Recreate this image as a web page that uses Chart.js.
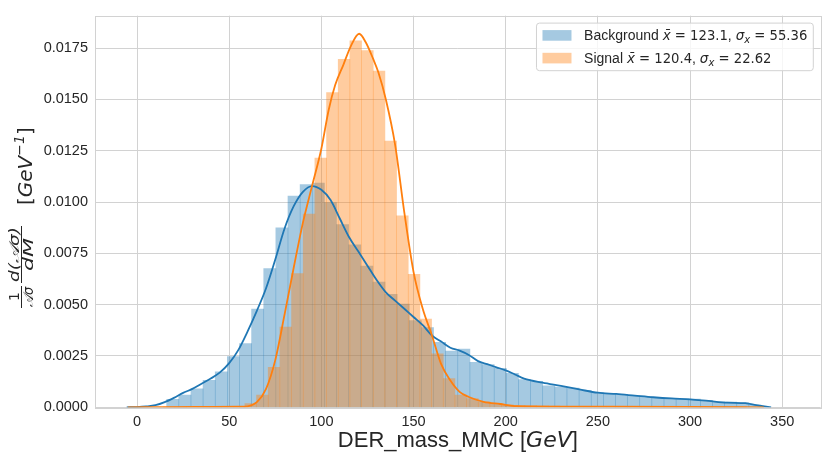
<!DOCTYPE html>
<html>
<head>
<meta charset="utf-8">
<script src="https://cdn.jsdelivr.net/npm/chart.js@4.4.1/dist/chart.umd.min.js"></script>
<style>
  html, body { margin: 0; padding: 0; background: #fff; }
  #caixa { width: 831px; height: 460px; position: relative; }
</style>
</head>
<body>
<div id="caixa"><canvas id="grafico_massa"></canvas></div>
<script>
// Cores (paleta padrão do matplotlib):
let azul = "#1f77b4";
let laranja = "#ff7f0e";
let azul_fill = "rgba(31, 119, 180, 0.4)";
let laranja_fill = "rgba(255, 127, 14, 0.4)";
let cinza_grade = "#d2d2d2";
let texto = "#262626";

// Dados dos histogramas (densidade por bin, GeV):
let bg_inicio = 16.1, bg_largura = 6.58
let bg_alturas = [0.00039, 0.0006, 0.0009, 0.00131, 0.00173, 0.00247, 0.0031, 0.00478, 0.00676, 0.00875,
  0.01029, 0.01085, 0.01092, 0.00997, 0.0089, 0.00792, 0.00688, 0.0061, 0.00551, 0.00503,
  0.00423, 0.00388, 0.00316, 0.00274, 0.00284, 0.00219, 0.00208, 0.0019, 0.00166, 0.00135,
  0.00127, 0.00104, 0.00099, 0.00094, 0.00083, 0.00072, 0.00067, 0.00063, 0.00054, 0.00051,
  0.00046, 0.00043, 0.00041, 0.0004, 0.00034, 0.00027, 0.00025, 0.00022, 0.00011]

let sg_inicio = 14.2, sg_largura = 6.33
let sg_alturas = [0.00001, 0.00001, 0.00002, 0.00002, 0.00002, 0.00003, 0.00005, 0.00018, 0.0006, 0.00195,
  0.00391, 0.00652, 0.00941, 0.01214, 0.01534, 0.01695, 0.01785, 0.01738, 0.01638, 0.01297,
  0.00933, 0.00648, 0.0043, 0.0026, 0.0014, 0.00059, 0.00043, 0.00027, 0.00019, 0.00012,
  0.0001, 0.00008, 0.00007, 0.00006, 0.00005, 0.00005, 0.00004, 0.00004, 0.00003, 0.00003,
  0.00003, 0.00002, 0.00002, 0.00002, 0.00002, 0.00001, 0.00001, 0.00001, 0.00001, 0.00001]

// Curvas KDE:
let bg_kde_x = [-5.6, 0, 5, 10, 15, 20, 25, 30, 35, 40, 45, 50, 55, 60, 65, 70, 75, 80, 85, 90,
  95, 100, 105, 110, 115, 120, 125, 130, 135, 140, 145, 150, 155, 160, 165, 170, 175, 180, 185, 190,
  195, 200, 205, 210, 220, 230, 240, 250, 260, 270, 280, 290, 300, 310, 320, 330, 336, 344]
let bg_kde_y = [0, 0.00001, 0.00004, 0.0001, 0.00025, 0.00046, 0.0007, 0.0009, 0.00115, 0.0014, 0.0017, 0.00215, 0.0028, 0.0037, 0.0047, 0.0058, 0.0072, 0.0087, 0.0098, 0.0105,
  0.01078, 0.0106, 0.0101, 0.0092, 0.0083, 0.0076, 0.0069, 0.0062, 0.0056, 0.0052, 0.0048, 0.0044, 0.004, 0.0035, 0.0032, 0.0029, 0.00276, 0.00255, 0.00225, 0.0021,
  0.00195, 0.0018, 0.0016, 0.0014, 0.0012, 0.00104, 0.00087, 0.00071, 0.00065, 0.00057, 0.00049, 0.00043, 0.00039, 0.00031, 0.00023, 0.0002, 0.00011, 0]

let sg_kde_x = [-5, 20, 40, 55, 60, 65, 70, 75, 80, 85, 90, 95, 100, 104, 107.5, 112, 116, 120.5, 124, 128,
  131, 135, 140, 145, 150, 155, 160, 165, 170, 175, 180, 188, 197, 206, 250, 300, 340]
let sg_kde_y = [0, 0.00001, 0.00002, 0.00003, 0.00005, 0.00025, 0.0009, 0.0023, 0.0045, 0.0068, 0.009, 0.0108, 0.0126, 0.0145, 0.0157, 0.0167, 0.0176, 0.0182, 0.0178, 0.017,
  0.0163, 0.015, 0.0128, 0.0095, 0.0066, 0.0048, 0.0035, 0.0021, 0.0013, 0.00075, 0.0005, 0.00027, 0.00016, 0.00006, 0.00003, 0.00002, 0]

// Legenda e eixos:
let nomes = ["Background", "Signal"]
let medias = ["123.1", "120.4"]
let desvios = ["55.36", "22.62"]
let x_ticks = [0, 50, 100, 150, 200, 250, 300, 350]
let y_ticks = [0, 0.0025, 0.005, 0.0075, 0.01, 0.0125, 0.015, 0.0175]

let bg_barras = bg_alturas.map((h, i) => ({ x: bg_inicio + bg_largura * (i + 0.5), y: h }))
let sg_barras = sg_alturas.map((h, i) => ({ x: sg_inicio + sg_largura * (i + 0.5), y: h }))
let bg_kde = bg_kde_x.map((x, i) => ({ x: x, y: bg_kde_y[i] }))
let sg_kde = sg_kde_x.map((x, i) => ({ x: x, y: sg_kde_y[i] }))

// Escreve pedaços de texto com fontes diferentes em sequência
function escrever(ctx, pedacos, x, y) {
  pedacos.forEach(p => {
    ctx.font = p.f
    ctx.fillText(p.t, x, y + (p.dy || 0))
    x += ctx.measureText(p.t).width
  })
  return x
}
function larguraPedacos(ctx, pedacos) {
  let w = 0
  pedacos.forEach(p => { ctx.font = p.f; w += ctx.measureText(p.t).width })
  return w
}
function textoAjustado(ctx, txt, fonte, u, v, largura) { // estica o texto até a largura
  ctx.font = fonte
  let w = ctx.measureText(txt).width
  ctx.save()
  ctx.translate(u, v)
  ctx.scale(largura / w, 1)
  ctx.fillText(txt, 0, 0)
  ctx.restore()
}

const molduraETextos = {
  id: 'molduraETextos',
  afterDraw(chart) {
    const ctx = chart.ctx
    const a = chart.chartArea
    ctx.save()
    // moldura
    ctx.strokeStyle = cinza_grade
    ctx.lineWidth = 1
    ctx.strokeRect(Math.round(a.left) + 0.5, Math.round(a.top) + 0.5, Math.round(a.right - a.left), Math.round(a.bottom - a.top))

    ctx.fillStyle = texto
    ctx.textBaseline = 'alphabetic'
    ctx.textAlign = 'left'

    // Título do eixo X
    let tx = [
      { t: "DER_mass_MMC [", f: "22px 'Liberation Sans', Arial, sans-serif" },
      { t: "GeV", f: "italic 22px 'DejaVu Sans', sans-serif" },
      { t: "]", f: "22px 'Liberation Sans', Arial, sans-serif" }
    ]
    let wx = larguraPedacos(ctx, tx)
    escrever(ctx, tx, (a.left + a.right) / 2 - wx / 2, 447)

    // Título do eixo Y (girado)
    ctx.save()
    ctx.translate(0, 308)
    ctx.rotate(-Math.PI / 2)
    ctx.strokeStyle = texto
    ctx.lineWidth = 1
    ctx.beginPath()
    ctx.moveTo(0, 21.5); ctx.lineTo(22, 21.5)
    ctx.moveTo(25, 21.5); ctx.lineTo(82, 21.5)
    ctx.stroke()
    ctx.font = "14px 'DejaVu Sans', sans-serif"
    ctx.fillText("1", 7, 18.5)
    textoAjustado(ctx, "𝒜σ", "italic 14px 'DejaVu Sans', sans-serif", 1, 33, 20)
    textoAjustado(ctx, "d(𝒜σ)", "italic 14px 'DejaVu Sans', sans-serif", 26, 18.5, 55)
    textoAjustado(ctx, "dM", "italic 14px 'DejaVu Sans', sans-serif", 37, 33, 33)
    escrever(ctx, [
      { t: "[", f: "20px 'DejaVu Sans', sans-serif" },
      { t: "GeV", f: "italic 20px 'DejaVu Sans', sans-serif" },
      { t: "−1", f: "italic 14px 'DejaVu Sans', sans-serif", dy: -8 },
      { t: "]", f: "20px 'DejaVu Sans', sans-serif" }
    ], 103, 32)
    ctx.restore()

    // Legenda
    let linhas = nomes.map((n, i) => [
      { t: n + " ", f: "14px 'Liberation Sans', Arial, sans-serif" },
      { t: "x\u0304", f: "italic 13.5px 'DejaVu Sans', sans-serif" },
      { t: " = " + medias[i], f: "13.2px 'DejaVu Sans', sans-serif" },
      { t: ", ", f: "14px 'Liberation Sans', Arial, sans-serif" },
      { t: "σ", f: "italic 13.5px 'DejaVu Sans', sans-serif" },
      { t: "x", f: "italic 10px 'DejaVu Sans', sans-serif", dy: 3 },
      { t: " = " + desvios[i], f: "13.2px 'DejaVu Sans', sans-serif" }
    ])
    let wt = Math.max(...linhas.map(l => larguraPedacos(ctx, l)))
    let dir = a.right - 7.4, topo = a.top + 7.4
    let esq = dir - (6 + 29 + 12.6 + wt + 6)
    ctx.beginPath()
    ctx.roundRect(esq, topo, dir - esq, 47.6, 3)
    ctx.fillStyle = "rgba(255,255,255,0.8)"
    ctx.fill()
    ctx.strokeStyle = cinza_grade
    ctx.stroke()
    let cores = [azul_fill, laranja_fill]
    linhas.forEach((l, i) => {
      let cy = topo + 12.3 + i * 22.7
      ctx.fillStyle = cores[i]
      ctx.fillRect(esq + 6, cy - 5.3, 29, 10.6)
      ctx.fillStyle = texto
      escrever(ctx, l, esq + 6 + 29 + 12.6, cy + 5)
    })
    ctx.restore()
  }
}

Chart.defaults.font.family = "'Liberation Sans', Arial, sans-serif"
Chart.defaults.color = texto

let gfc_massa = new Chart(document.getElementById('grafico_massa').getContext('2d'), {
  type: 'bar',
  data: {
    datasets: [
      { type: 'line', label: 'Signal KDE', data: sg_kde, xAxisID: 'x', yAxisID: 'y',
        borderColor: laranja, borderWidth: 1.8, pointRadius: 0, fill: false,
        cubicInterpolationMode: 'monotone', order: 0 },
      { type: 'line', label: 'Background KDE', data: bg_kde, xAxisID: 'x', yAxisID: 'y',
        borderColor: azul, borderWidth: 1.8, pointRadius: 0, fill: false,
        cubicInterpolationMode: 'monotone', order: 1 },
      { label: nomes[1], data: sg_barras, xAxisID: 'x2', yAxisID: 'y',
        backgroundColor: laranja_fill, borderWidth: 0, barPercentage: 1, categoryPercentage: 1,
        grouped: false, order: 2 },
      { label: nomes[0], data: bg_barras, xAxisID: 'x', yAxisID: 'y',
        backgroundColor: azul_fill, borderWidth: 0, barPercentage: 1, categoryPercentage: 1,
        grouped: false, order: 3 }
    ]
  },
  options: {
    responsive: true,
    maintainAspectRatio: false,
    animation: false,
    layout: { padding: { top: 9.3, right: 10.3, left: 0, bottom: 0 } },
    scales: {
      x: {
        type: 'linear', min: -22.8, max: 370.9, offset: false,
        grid: { color: cinza_grade, drawTicks: false, offset: false },
        border: { display: false },
        afterBuildTicks: (s) => { s.ticks = x_ticks.map(v => ({ value: v })) },
        afterFit: (s) => { s.height = 52.7 },
        ticks: { padding: 6, color: texto, font: { size: 14.5 }, callback: (v) => String(v) }
      },
      x2: {
        type: 'linear', min: -22.8, max: 370.9, offset: false, display: false,
        grid: { offset: false }
      },
      y: {
        type: 'linear', min: 0, max: 0.01908,
        grid: { color: cinza_grade, drawTicks: false },
        border: { display: false },
        afterBuildTicks: (s) => { s.ticks = y_ticks.map(v => ({ value: v })) },
        afterFit: (s) => { s.width = 95 },
        ticks: { padding: 7, color: texto, font: { size: 14.5 }, callback: (v) => v.toFixed(4) }
      }
    },
    plugins: {
      legend: { display: false },
      tooltip: { enabled: false }
    }
  },
  plugins: [molduraETextos]
});
</script>
</body>
</html>
